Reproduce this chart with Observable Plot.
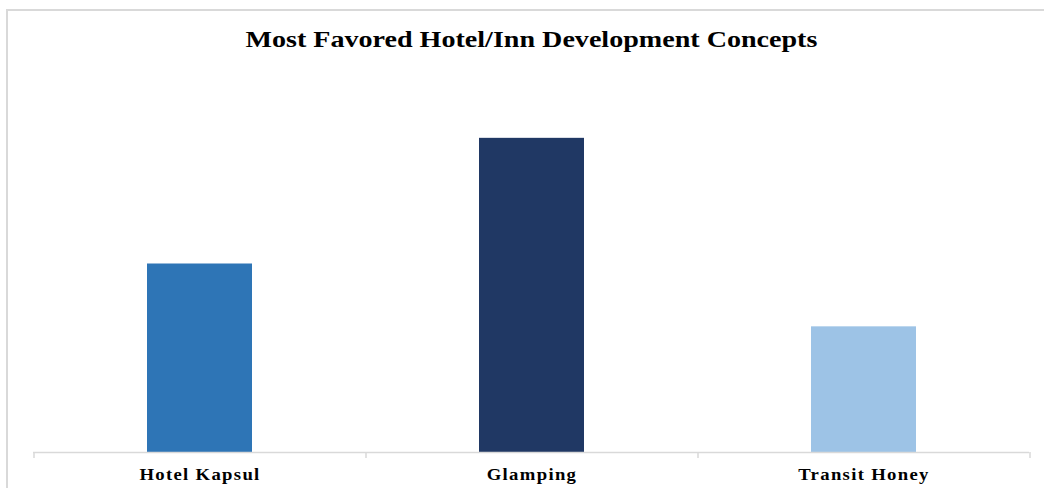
<!DOCTYPE html>
<html>
<head>
<meta charset="utf-8">
<script src="https://cdn.jsdelivr.net/npm/d3@7"></script>
<script src="https://cdn.jsdelivr.net/npm/@observablehq/plot@0.6"></script>
<style>
  html, body { margin: 0; padding: 0; background: #fff; overflow: hidden; }
  #wrap { position: relative; width: 1044px; height: 488px; }
  #frame { position: absolute; left: 6px; top: 9px; width: 1200px; height: 700px;
           border: 2px solid #d9d9d9; box-sizing: border-box; }
  #title { position: absolute; left: 33px; width: 996px; top: 0; height: 75px;
           text-align: center; font-family: "Liberation Serif", "Times New Roman", serif;
           font-weight: bold; font-size: 24px; line-height: 24px; padding-top: 27px;
           box-sizing: border-box; color: #000; }
  #title span { display: inline-block; transform: scaleX(1.17); transform-origin: center; }
  #chart { position: absolute; left: 0; top: 75px; }
</style>
</head>
<body>
<div id="wrap">
  <div id="frame"></div>
  <div id="title"><span>Most Favored Hotel/Inn Development Concepts</span></div>
  <div id="chart"></div>
</div>
<script>
const categories = ["Hotel Kapsul", "Glamping", "Transit Honey"];
const values = [30, 50, 20];
const colors = ["#2E75B6", "#203864", "#9DC3E6"];

const data = categories.map((c, i) => ({category: c, value: values[i], color: colors[i]}));

const W = 1044, H = 413, mL = 33, mR = 15, mT = 0, mB = 36;
const pInner = 0.684, pOuter = 0.342;
const step = (W - mL - mR) / (categories.length - pInner + 2 * pOuter);
const labelFont = {fontFamily: "'Liberation Serif', 'Times New Roman', serif"};

const chart = Plot.plot({
  width: W, height: H,
  marginLeft: mL, marginRight: mR, marginTop: mT, marginBottom: mB,
  style: {background: "transparent", overflow: "visible"},
  x: {domain: categories, paddingInner: pInner, paddingOuter: pOuter, label: null},
  y: {domain: [0, 60], axis: null},
  marks: [
    Plot.barY(data, {x: "category", y: "value", fill: "color"}),
    Plot.ruleY([0], {stroke: "#d9d9d9", strokeWidth: 1.5}),
    Plot.axisX({tickSize: 6, tickFormat: () => "", stroke: "#d9d9d9", strokeWidth: 1.5, dx: -step / 2}),
    Plot.axisX({ticks: [categories[categories.length - 1]], tickSize: 6, tickFormat: () => "", stroke: "#d9d9d9", strokeWidth: 1.5, dx: step / 2}),
    Plot.axisX({tickSize: 0, tickPadding: 15, fontSize: 17, fontWeight: "bold", fill: "#000", ...labelFont, label: null})
  ]
});
chart.querySelectorAll("text").forEach(t => {
  t.style.letterSpacing = "1.2px";
  const tr = t.getAttribute("transform");
  if (tr) t.setAttribute("transform", tr + " scale(1.1,1)");
});
document.getElementById("chart").appendChild(chart);
</script>
</body>
</html>
